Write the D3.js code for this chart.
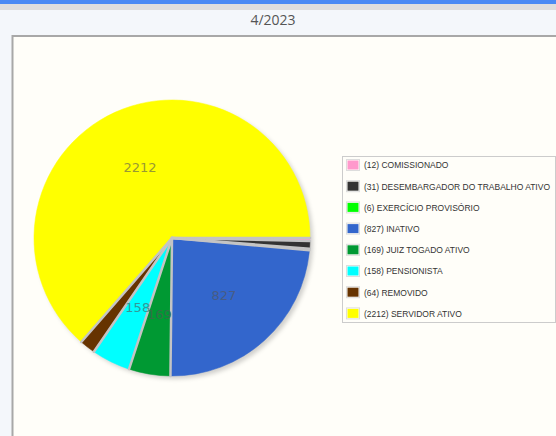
<!DOCTYPE html>
<meta charset="utf-8">
<style>
body { margin: 0; background: #f4f7fb; overflow: hidden; }
text { font-family: "Liberation Sans", Arial, sans-serif; }
</style>
<svg id="chart" width="556" height="436"></svg>
<script src="https://cdn.jsdelivr.net/npm/d3@7"></script>
<script>

const title = "4/2023"
const categories = ["COMISSIONADO", "DESEMBARGADOR DO TRABALHO ATIVO", "EXERCÍCIO PROVISÓRIO",
  "INATIVO", "JUIZ TOGADO ATIVO", "PENSIONISTA", "REMOVIDO", "SERVIDOR ATIVO"]
const values = [12, 31, 6, 827, 169, 158, 64, 2212]
const colors = ["#ff99cc", "#333333", "#00ff00", "#3366cc", "#009933", "#00ffff", "#663300", "#ffff00"]

const svg = d3.select("#chart")

// page chrome
svg.append("rect").attr("width", 556).attr("height", 4).attr("fill", "#4a8af4")
svg.append("rect").attr("y", 4).attr("width", 556).attr("height", 6).attr("fill", "#dedede")
svg.append("text")
    .attr("x", 273).attr("y", 25)
    .attr("text-anchor", "middle")
    .attr("fill", "#555")
    .style("font-family", "'Open Sans', sans-serif")
    .style("font-size", "14px")
    .text(title)

// panel
svg.append("rect")
    .attr("x", 12.5).attr("y", 36)
    .attr("width", 560).attr("height", 420)
    .attr("fill", "#fffef9")
    .attr("stroke", "#a8a8a8")
    .attr("stroke-width", 2)

const cx = 172, cy = 238, radius = 138

const defs = svg.append("defs")
defs.append("filter").attr("id", "blur")
  .append("feGaussianBlur").attr("stdDeviation", 2)

const pie = d3.pie().sort(null)
    .startAngle(Math.PI / 2)
    .endAngle(Math.PI / 2 + 2 * Math.PI)
const arcs = pie(values)
const arc = d3.arc().innerRadius(0).outerRadius(radius)
const total = d3.sum(values)

const g = svg.append("g").attr("transform", `translate(${cx}, ${cy})`)

// shadow
g.append("circle")
    .attr("cx", 3).attr("cy", 3).attr("r", radius)
    .attr("fill", "rgba(0,0,0,0.18)")
    .attr("filter", "url(#blur)")

g.selectAll("path.slice")
  .data(arcs)
  .join("path")
    .attr("class", "slice")
    .attr("d", arc)
    .attr("fill", (d, i) => colors[i])
    .attr("stroke", (d, i) => colors[i])
    .attr("stroke-width", 0.5)

// separators between slices
g.selectAll("line.sep")
  .data(arcs)
  .join("line")
    .attr("class", "sep")
    .attr("x2", d => d3.pointRadial(d.startAngle, radius)[0])
    .attr("y2", d => d3.pointRadial(d.startAngle, radius)[1])
    .attr("stroke", "#c4c4c4")
    .attr("stroke-width", 2.5)
    .attr("stroke-linecap", "round")

// labels for bigger slices
const labelArc = d3.arc().innerRadius(radius * 0.56).outerRadius(radius * 0.56)
g.selectAll("text.lbl")
  .data(arcs.filter(d => d.value / total > 0.03))
  .join("text")
    .attr("class", "lbl")
    .attr("transform", d => `translate(${labelArc.centroid(d)})`)
    .attr("text-anchor", "middle")
    .attr("dy", "0.35em")
    .attr("fill", d => d3.interpolateRgb(colors[d.index], "#555")(0.6))
    .style("font-family", "'DejaVu Sans', Verdana, sans-serif")
    .style("font-size", "13px")
    .text(d => d.value)

// legend
svg.append("rect")
    .attr("x", 342.5).attr("y", 156.5)
    .attr("width", 213).attr("height", 166)
    .attr("fill", "#fffef9")
    .attr("stroke", "#cccccc")
const legend = svg.append("g")

const rowH = 21.2
const row = legend.selectAll("g.row")
  .data(categories)
  .join("g")
    .attr("class", "row")
    .attr("transform", (d, i) => `translate(346, ${165 + i * rowH})`)

row.append("rect")
    .attr("x", 0.5).attr("y", -5.5)
    .attr("width", 13).attr("height", 11)
    .attr("fill", "none")
    .attr("stroke", "#dddddd")
row.append("rect")
    .attr("x", 1.5).attr("y", -4.5)
    .attr("width", 11).attr("height", 9)
    .attr("fill", (d, i) => colors[i])
const labels = row.append("text")
    .attr("x", 18).attr("y", 0)
    .attr("dy", "0.35em")
    .attr("fill", "#333")
    .style("font-size", "9.5px")
    .text((d, i) => `(${values[i]}) ${d}`)

// squeeze the legend font so the longest entry fits like the original
const widest = d3.max(labels.nodes(), n => n.getComputedTextLength())
const k = 186 / widest
labels.each(function() {
  const w = this.getComputedTextLength()
  d3.select(this)
    .attr("textLength", w * k)
    .attr("lengthAdjust", "spacingAndGlyphs")
})

</script>
